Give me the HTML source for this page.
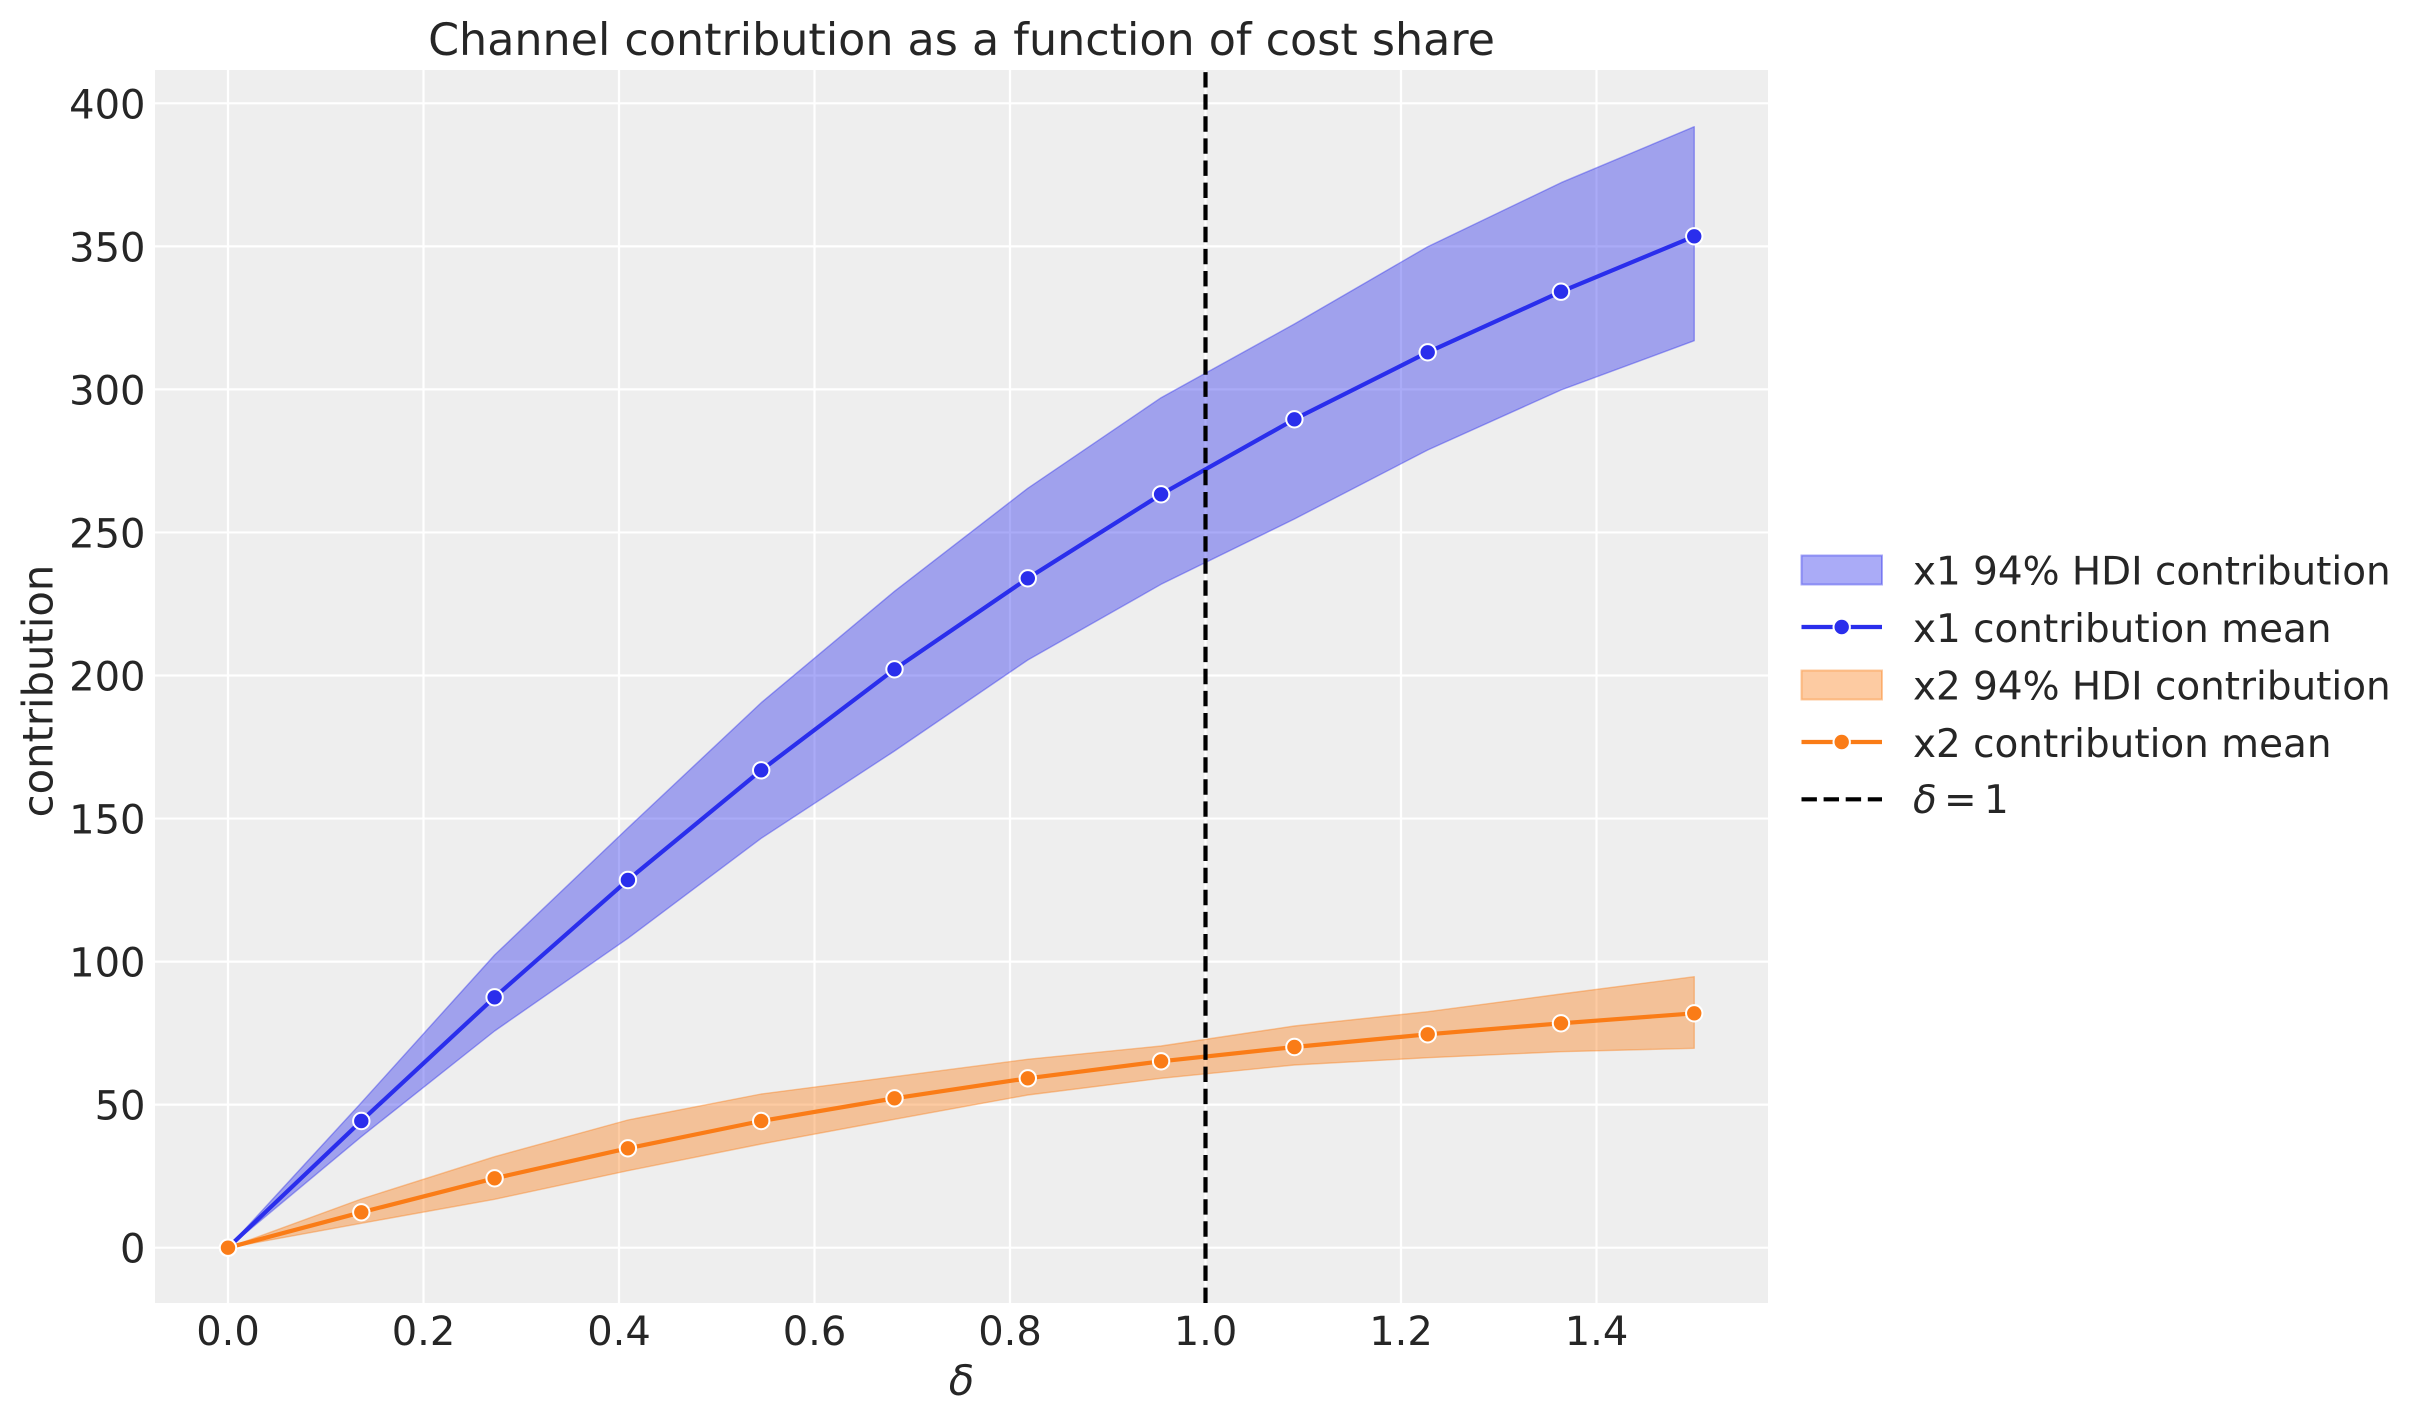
<!DOCTYPE html>
<html>
<head>
<meta charset="utf-8">
<style>
  html, body { margin: 0; padding: 0; background: #ffffff; }
  body { width: 2423px; height: 1423px; overflow: hidden; }
  svg { display: block; }
  text { font-family: "DejaVu Sans", "Liberation Sans", sans-serif; fill: #262626; }
</style>
</head>
<body>
<svg width="2423" height="1423" viewBox="0 0 2423 1423" xmlns="http://www.w3.org/2000/svg">
  <rect x="0" y="0" width="2423" height="1423" fill="#ffffff"/>
  <!-- axes background -->
  <rect x="155" y="70" width="1613" height="1233" fill="#eeeeee"/>
  <!-- grid -->
  <g stroke="#ffffff" stroke-width="2.2">
    <line x1="228" y1="70" x2="228" y2="1303"/>
    <line x1="423.5" y1="70" x2="423.5" y2="1303"/>
    <line x1="619" y1="70" x2="619" y2="1303"/>
    <line x1="814.5" y1="70" x2="814.5" y2="1303"/>
    <line x1="1010" y1="70" x2="1010" y2="1303"/>
    <line x1="1205.5" y1="70" x2="1205.5" y2="1303"/>
    <line x1="1401" y1="70" x2="1401" y2="1303"/>
    <line x1="1596.5" y1="70" x2="1596.5" y2="1303"/>
    <line x1="155" y1="1247.7" x2="1768" y2="1247.7"/>
    <line x1="155" y1="1104.65" x2="1768" y2="1104.65"/>
    <line x1="155" y1="961.6" x2="1768" y2="961.6"/>
    <line x1="155" y1="818.55" x2="1768" y2="818.55"/>
    <line x1="155" y1="675.5" x2="1768" y2="675.5"/>
    <line x1="155" y1="532.45" x2="1768" y2="532.45"/>
    <line x1="155" y1="389.4" x2="1768" y2="389.4"/>
    <line x1="155" y1="246.35" x2="1768" y2="246.35"/>
    <line x1="155" y1="103.3" x2="1768" y2="103.3"/>
  </g>

  <!-- x1 HDI band -->
  <path d="M228,1247.7 L361.3,1102.7 L494.6,955 L627.9,828 L761.2,702.7 L894.5,591.3 L1027.8,488.3 L1161.1,397.7 L1294.4,324 L1427.7,246.7 L1561,182.7 L1694.25,126.7 L1694.25,340.7 L1561,390 L1427.7,450 L1294.4,519 L1161.1,584.3 L1027.8,660 L894.5,751 L761.2,838.3 L627.9,938.3 L494.6,1031 L361.3,1136.7 Z"
        fill="#2a2eec" fill-opacity="0.4" stroke="#2a2eec" stroke-opacity="0.4" stroke-width="1.4" stroke-linejoin="round"/>
  <!-- x1 mean line -->
  <polyline points="228,1247.7 361.3,1121 494.6,997.3 627.9,880 761.2,770.3 894.5,669.3 1027.8,578.3 1161.1,494.3 1294.4,419.3 1427.7,352.3 1561,291.7 1694.25,236.3"
        fill="none" stroke="#2a2eec" stroke-width="4.2" stroke-linejoin="round" stroke-linecap="round"/>
  <g fill="#2a2eec" stroke="#ffffff" stroke-width="2">
    <circle cx="228" cy="1247.7" r="8.2"/>
    <circle cx="361.3" cy="1121" r="8.2"/>
    <circle cx="494.6" cy="997.3" r="8.2"/>
    <circle cx="627.9" cy="880" r="8.2"/>
    <circle cx="761.2" cy="770.3" r="8.2"/>
    <circle cx="894.5" cy="669.3" r="8.2"/>
    <circle cx="1027.8" cy="578.3" r="8.2"/>
    <circle cx="1161.1" cy="494.3" r="8.2"/>
    <circle cx="1294.4" cy="419.3" r="8.2"/>
    <circle cx="1427.7" cy="352.3" r="8.2"/>
    <circle cx="1561" cy="291.7" r="8.2"/>
    <circle cx="1694.25" cy="236.3" r="8.2"/>
  </g>

  <!-- x2 HDI band -->
  <path d="M228,1247.7 L361.3,1199 L494.6,1156.7 L627.9,1120 L761.2,1094 L894.5,1076.7 L1027.8,1059.3 L1161.1,1046 L1294.4,1026 L1427.7,1011.7 L1561,994 L1694.25,976.7 L1694.25,1048.3 L1561,1051.7 L1427.7,1057.7 L1294.4,1065 L1161.1,1078.3 L1027.8,1095 L894.5,1119.3 L761.2,1144 L627.9,1170.7 L494.6,1199.3 L361.3,1223.3 Z"
        fill="#fa7c17" fill-opacity="0.4" stroke="#fa7c17" stroke-opacity="0.4" stroke-width="1.4" stroke-linejoin="round"/>
  <!-- x2 mean line -->
  <polyline points="228,1247.7 361.3,1212.3 494.6,1178.3 627.9,1148.3 761.2,1121 894.5,1098.3 1027.8,1078.3 1161.1,1061.3 1294.4,1047 1427.7,1034.3 1561,1023.3 1694.25,1013.3"
        fill="none" stroke="#fa7c17" stroke-width="4.2" stroke-linejoin="round" stroke-linecap="round"/>
  <g fill="#fa7c17" stroke="#ffffff" stroke-width="2">
    <circle cx="228" cy="1247.7" r="8.2"/>
    <circle cx="361.3" cy="1212.3" r="8.2"/>
    <circle cx="494.6" cy="1178.3" r="8.2"/>
    <circle cx="627.9" cy="1148.3" r="8.2"/>
    <circle cx="761.2" cy="1121" r="8.2"/>
    <circle cx="894.5" cy="1098.3" r="8.2"/>
    <circle cx="1027.8" cy="1078.3" r="8.2"/>
    <circle cx="1161.1" cy="1061.3" r="8.2"/>
    <circle cx="1294.4" cy="1047" r="8.2"/>
    <circle cx="1427.7" cy="1034.3" r="8.2"/>
    <circle cx="1561" cy="1023.3" r="8.2"/>
    <circle cx="1694.25" cy="1013.3" r="8.2"/>
  </g>

  <!-- delta = 1 vertical dashed line -->
  <line x1="1205.5" y1="1303" x2="1205.5" y2="70" stroke="#000000" stroke-width="4.2" stroke-dasharray="15.4 6.7"/>

  <!-- title -->
  <text x="961.5" y="55" font-size="44.4" text-anchor="middle">Channel contribution as a function of cost share</text>

  <!-- x tick labels -->
  <g font-size="40" text-anchor="middle">
    <text x="228" y="1345">0.0</text>
    <text x="423.5" y="1345">0.2</text>
    <text x="619" y="1345">0.4</text>
    <text x="814.5" y="1345">0.6</text>
    <text x="1010" y="1345">0.8</text>
    <text x="1205.5" y="1345">1.0</text>
    <text x="1401" y="1345">1.2</text>
    <text x="1596.5" y="1345">1.4</text>
  </g>
  <!-- y tick labels -->
  <g font-size="40" text-anchor="end">
    <text x="145.5" y="1262.7">0</text>
    <text x="145.5" y="1119.65">50</text>
    <text x="145.5" y="976.6">100</text>
    <text x="145.5" y="833.55">150</text>
    <text x="145.5" y="690.5">200</text>
    <text x="145.5" y="547.45">250</text>
    <text x="145.5" y="404.4">300</text>
    <text x="145.5" y="261.35">350</text>
    <text x="145.5" y="118.3">400</text>
  </g>

  <!-- axis labels -->
  <text x="961.5" y="1395" font-size="41.7" text-anchor="middle" font-style="italic">δ</text>
  <text transform="translate(52.5,691) rotate(-90)" x="0" y="0" font-size="41.7" text-anchor="middle">contribution</text>

  <!-- legend -->
  <rect x="1801.5" y="555.5" width="80.5" height="29" fill="#2a2eec" fill-opacity="0.4" stroke="#2a2eec" stroke-opacity="0.4" stroke-width="2"/>
  <text x="1913" y="584.5" font-size="38.9">x1 94% HDI contribution</text>

  <line x1="1801.5" y1="627" x2="1882" y2="627" stroke="#2a2eec" stroke-width="4.2"/>
  <circle cx="1841.7" cy="627" r="8.2" fill="#2a2eec" stroke="#ffffff" stroke-width="2"/>
  <text x="1913" y="642" font-size="38.9">x1 contribution mean</text>

  <rect x="1801.5" y="670.5" width="80.5" height="29" fill="#fa7c17" fill-opacity="0.4" stroke="#fa7c17" stroke-opacity="0.4" stroke-width="2"/>
  <text x="1913" y="699.5" font-size="38.9">x2 94% HDI contribution</text>

  <line x1="1801.5" y1="742" x2="1882" y2="742" stroke="#fa7c17" stroke-width="4.2"/>
  <circle cx="1841.7" cy="742" r="8.2" fill="#fa7c17" stroke="#ffffff" stroke-width="2"/>
  <text x="1913" y="757" font-size="38.9">x2 contribution mean</text>

  <line x1="1801.5" y1="799.3" x2="1882" y2="799.3" stroke="#000000" stroke-width="4.2" stroke-dasharray="15.4 6.7"/>
  <text x="1913" y="813" font-size="38.9" font-style="italic">δ</text>
  <text x="1944" y="813" font-size="38.9">=</text>
  <text x="1984" y="813" font-size="38.9">1</text>
</svg>
</body>
</html>
